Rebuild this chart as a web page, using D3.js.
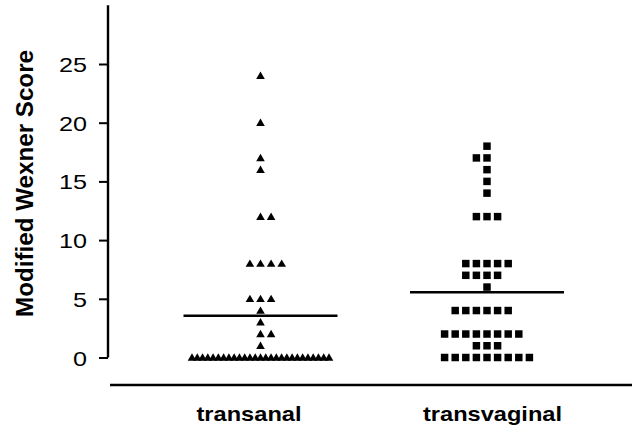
<!DOCTYPE html>
<html>
<head>
<meta charset="utf-8">
<script src="https://cdn.jsdelivr.net/npm/d3@7"></script>
<style>
  html, body { margin: 0; padding: 0; background: #fff; }
  svg { display: block; }
  text { font-family: "Liberation Sans", Arial, Helvetica, sans-serif; fill: #000; }
</style>
</head>
<body>
<svg id="chart" width="632" height="432"></svg>
<script>
// ---- data ----
const categories = ["transanal", "transvaginal"];
const transanalScores = [24, 20, 17, 16, 12, 12, 8, 8, 8, 8, 5, 5, 5, 4, 3, 2, 2, 1,
  0, 0, 0, 0, 0, 0, 0, 0, 0, 0, 0, 0, 0, 0, 0, 0, 0, 0, 0, 0, 0, 0, 0, 0, 0, 0, 0];
const transvaginalScores = [18, 17, 17, 16, 15, 14, 12, 12, 12, 8, 8, 8, 8, 8, 7, 7, 7, 7, 6,
  4, 4, 4, 4, 4, 4, 2, 2, 2, 2, 2, 2, 2, 2, 1, 1, 1, 0, 0, 0, 0, 0, 0, 0, 0, 0];
const yTicks = [0, 5, 10, 15, 20, 25];
const yTitle = "Modified Wexner Score";

// ---- layout ----
const svg = d3.select("#chart");
const y = d3.scaleLinear().domain([0, 30]).range([357.5, 5.3]);
const xCol = d3.scalePoint().domain(categories).range([260.5, 487]);
const xLab = d3.scalePoint().domain(categories).range([249, 492.5]);

const groups = [
  { name: categories[0], values: transanalScores, symbol: d3.symbolTriangle, size: 32, first: 1 },
  { name: categories[1], values: transvaginalScores, symbol: d3.symbolSquare, size: 56, first: -1 }
];

const maxRowWidth = 137;
const baseSpacing = 10.6;

groups.forEach(g => {
  const byVal = d3.group(g.values, v => v);
  const pts = [];
  byVal.forEach((arr, v) => {
    const n = arr.length;
    const sp = n > 1 ? Math.min(baseSpacing, maxRowWidth / (n - 1)) : baseSpacing;
    arr.forEach((_, k) => {
      let slot = 0;
      if (k > 0) {
        const m = Math.ceil(k / 2);
        slot = (k % 2 === 1 ? g.first : -g.first) * m;
      }
      pts.push({ v, dx: slot * sp });
    });
  });
  const sym = d3.symbol().type(g.symbol).size(g.size);
  svg.append("g").selectAll("path").data(pts).join("path")
    .attr("d", sym)
    .attr("transform", d => `translate(${xCol(g.name) + d.dx},${y(d.v) + (g.symbol === d3.symbolTriangle ? 0.8 : 0)})`)
    .attr("fill", "#000");
  // mean line
  const m = d3.mean(g.values);
  svg.append("line")
    .attr("x1", xCol(g.name) - 77).attr("x2", xCol(g.name) + 77)
    .attr("y1", y(m)).attr("y2", y(m))
    .attr("stroke", "#000").attr("stroke-width", 2.4);
});

// y axis
const yAxis = d3.axisLeft(y).tickValues(yTicks).tickSize(9).tickPadding(12).tickFormat(d3.format("d"));
const gy = svg.append("g").attr("transform", "translate(108,0)").call(yAxis);
gy.select(".domain").attr("d", `M0,${y(0)}V${y(30)}`).attr("stroke-width", 2.4);
gy.selectAll(".tick line").attr("stroke-width", 2);
gy.selectAll(".tick text")
  .style("font-size", "21px")
  .style("font-family", "'Liberation Sans', Arial, sans-serif")
  .attr("textLength", d => String(d).length * 14)
  .attr("lengthAdjust", "spacingAndGlyphs")
  .attr("dy", "0.36em");

// y title
svg.append("text")
  .attr("transform", `translate(33,${183.5}) rotate(-90)`)
  .attr("text-anchor", "middle")
  .style("font-size", "24px").style("font-weight", "bold")
  .attr("textLength", 267).attr("lengthAdjust", "spacingAndGlyphs")
  .text(yTitle);

// x axis baseline
svg.append("line").attr("x1", 110).attr("x2", 632).attr("y1", 385).attr("y2", 385)
  .attr("stroke", "#000").attr("stroke-width", 2.4);

// category labels
const labelWidths = [105, 139];
svg.append("g").selectAll("text").data(categories).join("text")
  .attr("x", d => xLab(d)).attr("y", 421)
  .attr("text-anchor", "middle")
  .style("font-size", "21px").style("font-weight", "bold")
  .attr("textLength", (d, i) => labelWidths[i]).attr("lengthAdjust", "spacingAndGlyphs")
  .text(d => d);
</script>
</body>
</html>
